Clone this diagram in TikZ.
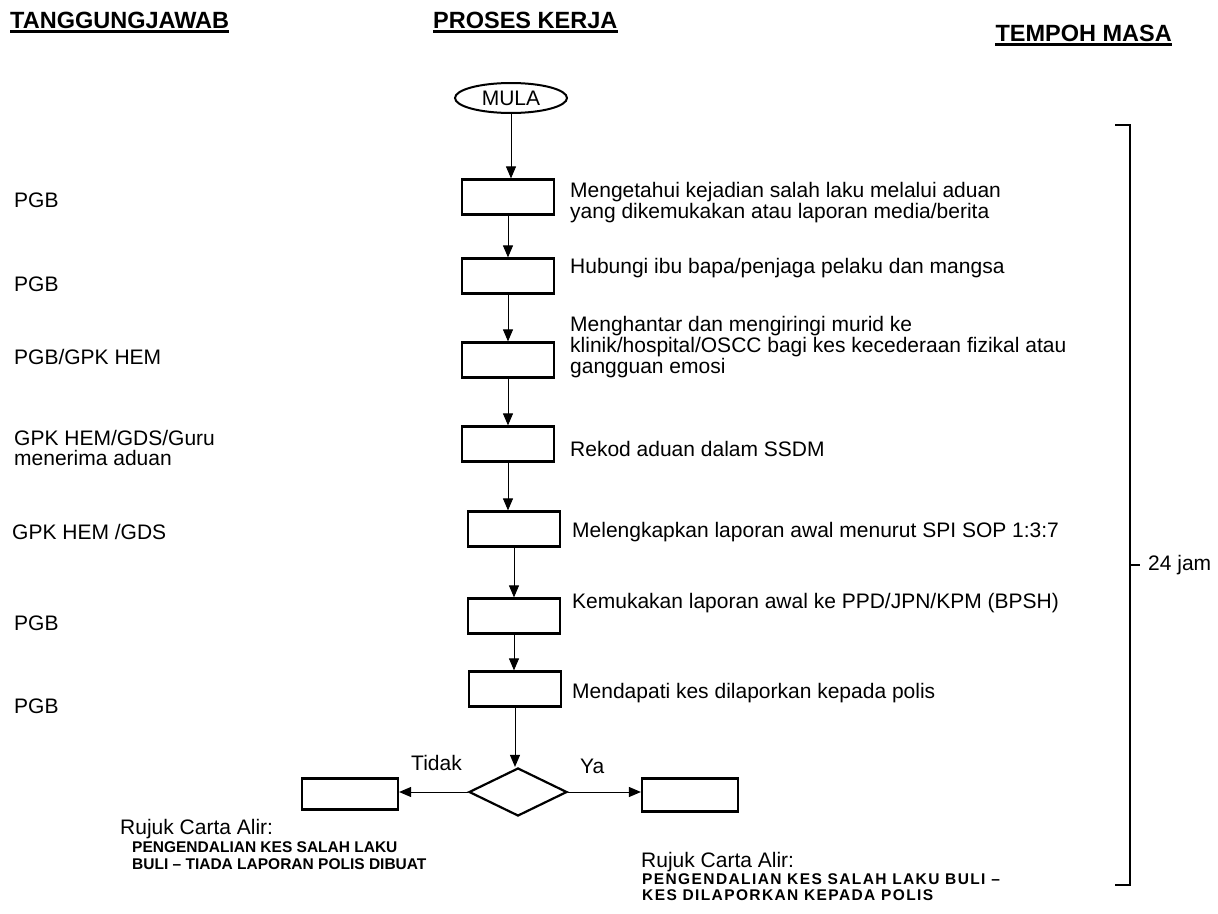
\documentclass[tikz,border=0pt]{standalone}
\usepackage{fontspec}
\usepackage{graphicx}
\setmainfont{Liberation Sans}
\usetikzlibrary{shapes.geometric,arrows.meta}
\begin{document}
\begin{tikzpicture}[x=1pt,y=-1pt,
  box/.style={draw,line width=2.2pt,minimum width=92pt,minimum height=35pt,inner sep=0pt},
  txt/.style={anchor=west,align=left,inner sep=0pt,font=\fontsize{21}{21}\selectfont},
  btxt/.style={anchor=west,align=left,inner sep=0pt,font=\fontsize{15.5}{17}\selectfont\bfseries},
  hdr/.style={inner sep=0pt,font=\fontsize{23.5}{26}\selectfont\bfseries},
  uline/.style={line width=2.2pt},
  arr/.style={-{Triangle[length=12pt,width=10pt]},line width=1pt}]
\useasboundingbox (0,0) rectangle (1218,913);
% headers
\node[hdr,anchor=west] (h1) at (10,20) {TANGGUNGJAWAB};
\node[hdr,anchor=west] (h2) at (433,20) {PROSES KERJA};
\node[hdr,anchor=east] (h3) at (1172,33) {TEMPOH MASA};
\draw[uline] ([yshift=-3pt]h1.south west) -- ([yshift=-3pt]h1.south east);
\draw[uline] ([yshift=-3pt]h2.south west) -- ([yshift=-3pt]h2.south east);
\draw[uline] ([yshift=-3pt]h3.south west) -- ([yshift=-3pt]h3.south east);
% start
\node[draw,ellipse,line width=2pt,minimum width=112pt,minimum height=30pt,inner sep=0pt,
  font=\fontsize{21}{22}\selectfont] (mula) at (511,98) {MULA};
% boxes
\node[box] (b1) at (508,197) {};
\node[box] (b2) at (508,276) {};
\node[box] (b3) at (508,360) {};
\node[box] (b4) at (508,444) {};
\node[box] (b5) at (514,529) {};
\node[box] (b6) at (514,616) {};
\node[box] (b7) at (515,689) {};
\node[draw,diamond,line width=2.2pt,minimum width=98pt,minimum height=48pt,inner sep=0pt] (d) at (518,792) {};
\node[box,minimum width=96pt,minimum height=31pt] (l) at (350,794) {};
\node[box,minimum width=96pt,minimum height=33pt] (r) at (690,795) {};
% arrows
\draw[arr] (mula.south) -- (mula.south |- b1.north);
\draw[arr] (b1.south) -- (b1.south |- b2.north);
\draw[arr] (b2.south) -- (b2.south |- b3.north);
\draw[arr] (b3.south) -- (b3.south |- b4.north);
\draw[arr] (b4.south) -- (b4.south |- b5.north);
\draw[arr] (b5.south) -- (b5.south |- b6.north);
\draw[arr] (b6.south) -- (b6.south |- b7.north);
\draw[arr] (b7.south) -- (b7.south |- d.north);
\draw[arr] (d.west) -- (d.west -| l.east);
\draw[arr] (d.east) -- (d.east -| r.west);
\node[txt] (tidak) at (411,763) {Tidak};
\node[txt] (ya) at (580,766) {Ya};
% process texts
\node[txt] (t1) at (570,203) {Mengetahui kejadian salah laku melalui aduan\\yang dikemukakan atau laporan media/berita};
\node[txt] (t2) at (570,268) {Hubungi ibu bapa/penjaga pelaku dan mangsa};
\node[txt,font=\fontsize{21}{19}\selectfont] (t3) at (570,347) {Menghantar dan mengiringi murid ke\\klinik/hospital/OSCC bagi kes kecederaan fizikal atau\\gangguan emosi};
\node[txt] (t4) at (570,449) {Rekod aduan dalam SSDM};
\node[txt] (t5) at (572,532) {Melengkapkan laporan awal menurut SPI SOP 1:3:7};
\node[txt] (t6) at (572,603) {Kemukakan laporan awal ke PPD/JPN/KPM (BPSH)};
\node[txt] (t7) at (572,693) {Mendapati kes dilaporkan kepada polis};
% responsibility
\node[txt] (p1) at (14,200) {PGB};
\node[txt] (p2) at (14,284) {PGB};
\node[txt] (p3) at (14,357) {PGB/GPK HEM};
\node[txt,font=\fontsize{21}{20}\selectfont] (p4) at (14,448) {GPK HEM/GDS/Guru\\menerima aduan};
\node[txt] (p5) at (12,532) {GPK HEM /GDS};
\node[txt] (p6) at (14,623) {PGB};
\node[txt] (p7) at (14,706) {PGB};
% outcomes
\node[txt] (lr) at (120,829) {Rujuk Carta Alir:};
\node[btxt] (lb) at (132,856) {PENGENDALIAN KES SALAH LAKU\\BULI – TIADA LAPORAN POLIS DIBUAT};
\node[txt] (rr) at (641,862) {Rujuk Carta Alir:};
\node[btxt,font=\fontsize{15.5}{16}\selectfont\bfseries\addfontfeature{LetterSpace=9}] (rb) at (642,887) {PENGENDALIAN KES SALAH LAKU BULI –\\KES DILAPORKAN KEPADA POLIS};
% time bracket
\coordinate (bt) at (1115,125);
\coordinate (bb) at (1115,885);
\coordinate (bm) at (1130,565);
\draw[line width=2pt] (bt) -- (1130,125) -- (1130,885) -- (bb);
\draw[line width=2pt] (bm) -- (1140,565);
\node[txt] (jam) at (1148,565) {24 jam};
\end{tikzpicture}
\end{document}
